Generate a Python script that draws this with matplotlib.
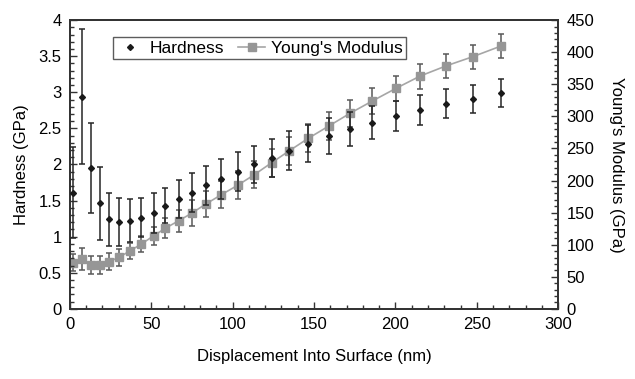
import matplotlib
matplotlib.use("Agg")
import matplotlib.pyplot as plt
from matplotlib.ticker import MultipleLocator
from matplotlib.lines import Line2D

plt.rcParams['font.family'] = ['Liberation Sans', 'DejaVu Sans']

# displacement into surface (nm)
depth = [2.0, 7.2, 12.7, 18.3, 24.2, 30.3, 36.9, 44.0, 51.4, 58.6, 67.0, 74.8,
         83.6, 92.8, 103.1, 113.1, 124.0, 134.6, 146.5, 159.4, 172.1, 185.8,
         200.4, 215.2, 230.9, 247.5, 264.8]

# hardness (GPa) and its std dev
hardness = [1.61, 2.94, 1.95, 1.46, 1.24, 1.20, 1.22, 1.26, 1.33, 1.43, 1.52, 1.61,
            1.71, 1.80, 1.90, 2.00, 2.09, 2.19, 2.29, 2.40, 2.49, 2.58,
            2.67, 2.75, 2.84, 2.91, 2.99]
hardness_err = [0.63, 0.93, 0.62, 0.50, 0.37, 0.33, 0.30, 0.27, 0.28, 0.24, 0.26, 0.27,
                0.27, 0.28, 0.27, 0.26, 0.26, 0.27, 0.26, 0.25, 0.24, 0.23,
                0.21, 0.21, 0.20, 0.19, 0.19]

# young's modulus (GPa) and its std dev
modulus = [72.1, 77.4, 68.5, 68.5, 73.7, 80.5, 90.3, 101.2, 113.7, 125.6, 137.5, 149.0,
           163.5, 177.5, 192.6, 208.7, 227.8, 246.0, 265.8, 285.4, 304.7, 323.9,
           343.7, 362.8, 378.4, 392.9, 409.5]
modulus_err = [13, 17, 13.5, 13.5, 13.5, 13, 12, 12.5, 14.5, 15.5, 17, 20,
               20, 21, 22, 21, 22, 22, 22, 22, 21, 20,
               19.5, 19.5, 19, 19, 18.5]

fig = plt.figure(figsize=(6.35, 3.79), dpi=100)
ax = fig.add_axes([0.110, 0.185, 0.769, 0.762])
ax2 = ax.twinx()

# hardness: markers only
ax.errorbar(depth, hardness, yerr=hardness_err, fmt='D', color='#1a1a1a',
            markersize=3, ecolor='#262626', elinewidth=1.1, capsize=2.5,
            capthick=1.1, zorder=3)

# modulus: line + squares
ax2.errorbar(depth, modulus, yerr=modulus_err, fmt='-s', color='#a6a6a6',
             markerfacecolor='#969696', markeredgecolor='#969696', markersize=5.5,
             linewidth=1.2, ecolor='#595959', elinewidth=1.1, capsize=2.5,
             capthick=1.1, zorder=2)

ax.set_xlim(0, 300)
ax.set_ylim(0, 4)
ax2.set_ylim(0, 450)
ax.xaxis.set_major_locator(MultipleLocator(50))
ax.xaxis.set_minor_locator(MultipleLocator(10))
ax.yaxis.set_minor_locator(MultipleLocator(0.1))
ax2.yaxis.set_major_locator(MultipleLocator(50))
ax2.yaxis.set_minor_locator(MultipleLocator(10))

ax.set_yticks([0, 0.5, 1, 1.5, 2, 2.5, 3, 3.5, 4])
ax.set_yticklabels(['0', '0.5', '1', '1.5', '2', '2.5', '3', '3.5', '4'])

for a in (ax, ax2):
    a.tick_params(which='both', direction='in', labelsize=12, color='#333333', pad=6)
    a.tick_params(which='major', length=5, width=1)
    a.tick_params(which='minor', length=3, width=1)
    for s in a.spines.values():
        s.set_color('#333333')
        s.set_linewidth(1.3)

ax.set_xlabel('Displacement Into Surface (nm)', fontsize=12, labelpad=12)
ax.set_ylabel('Hardness (GPa)', fontsize=12, labelpad=7)
ax2.set_ylabel("Young's Modulus (GPa)", fontsize=12, rotation=270, labelpad=21)

ax.set_zorder(ax2.get_zorder() + 1)
ax.patch.set_visible(False)

handles = [Line2D([], [], linestyle='none', marker='D', markersize=3, color='#1a1a1a'),
           Line2D([], [], color='#a6a6a6', marker='s', markersize=5.5,
                  markerfacecolor='#969696', markeredgecolor='#969696', linewidth=1.2)]
leg = ax.legend(handles, ['Hardness', "Young's Modulus"], loc='upper left',
                bbox_to_anchor=(0.088, 0.941), borderaxespad=0, ncol=2,
                fontsize=12.5, frameon=True, fancybox=False, edgecolor='#333333',
                borderpad=0.2, handlelength=1.6, handletextpad=0.3, columnspacing=0.8)
leg.get_frame().set_linewidth(1.0)

fig.savefig('out.png', dpi=100)
